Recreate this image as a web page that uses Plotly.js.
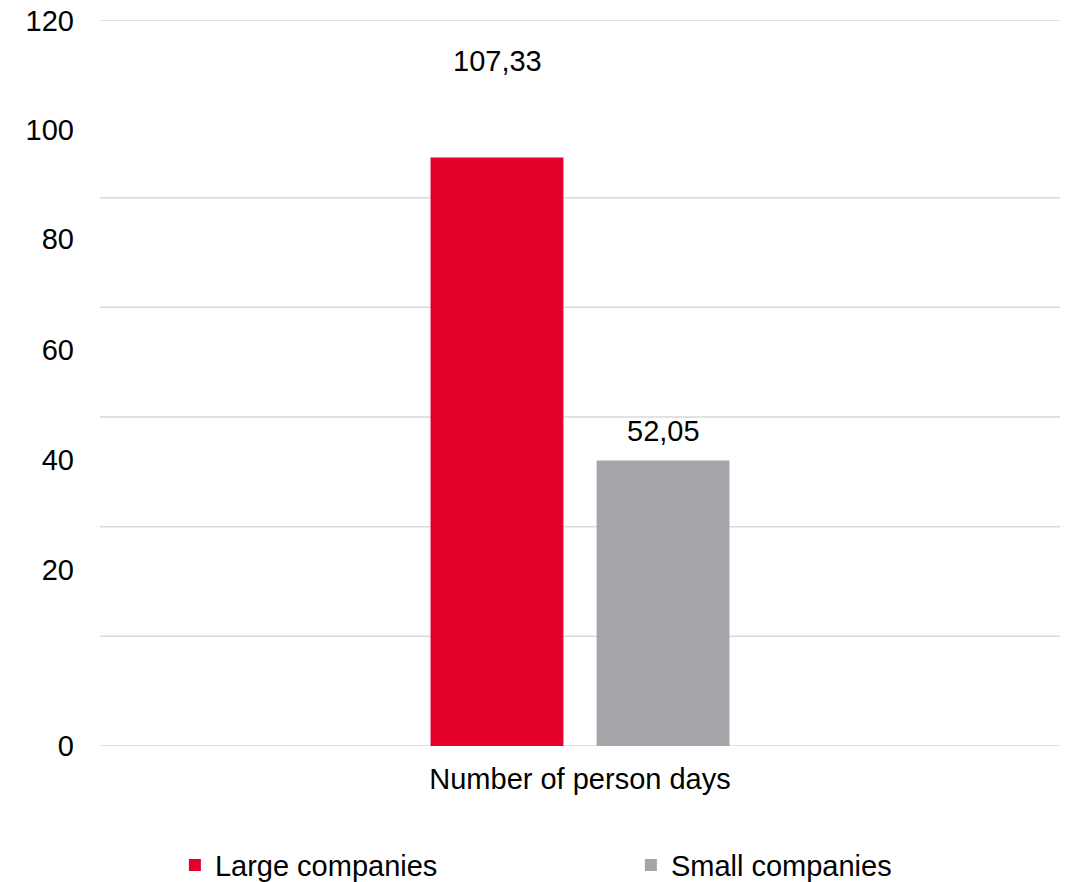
<!DOCTYPE html>
<html>
<head>
<meta charset="utf-8">
<script src="https://cdn.plot.ly/plotly-3.0.1.min.js"></script>
<style>html,body{margin:0;padding:0;background:#fff;}#chart{width:1069px;height:882px;}</style>
</head>
<body>
<div id="chart"></div>
<script>
// ---- data ----
const categories = ["Number of person days"];
const seriesNames = ["Large companies", "Small companies"];
const largeValues = [107.33];
const smallValues = [52.05];
const yTickLabels = ["0", "20", "40", "60", "80", "100", "120"];
const gridValues = [0, 20, 40, 60, 80, 100];

// ---- layout constants ----
const colors = ["#E4002B", "#A5A6A9"];
const yRange = [0, 132.4];
const yTickPositions = [0, 32.2, 52.2, 72.3, 92.4, 112.3, 132.2];
const labelXShift = [-83, 83];
const labelYShift = [96, 30];
const FONT = "Liberation Sans, Arial, Helvetica, sans-serif";
const FS = 29;

const fmt = v => v.toFixed(2).replace(".", ",");

const seriesValues = [largeValues, smallValues];
const traces = seriesValues.map((vals, i) => ({
  type: "bar",
  name: seriesNames[i],
  x: categories,
  y: vals,
  marker: { color: colors[i] },
  hoverinfo: "none"
}));

const annotations = [];
seriesValues.forEach((vals, i) => {
  vals.forEach((v, j) => {
    annotations.push({
      x: categories[j], y: v, xref: "x", yref: "y",
      text: fmt(v), showarrow: false,
      xshift: labelXShift[i], yshift: labelYShift[i],
      yanchor: "middle",
      font: { family: FONT, size: FS, color: "#000" }
    });
  });
});

const shapes = gridValues.concat([yRange[1]]).map(g => ({
  type: "line", xref: "paper", x0: 0, x1: 1, yref: "y", y0: g, y1: g,
  line: { color: "#D9D9D9", width: 1.5 }, layer: "below"
}));

const layout = {
  width: 1069, height: 882,
  margin: { l: 100, r: 9, t: 20, b: 136, pad: 0, autoexpand: false },
  paper_bgcolor: "#fff", plot_bgcolor: "#fff",
  font: { family: FONT, size: FS, color: "#000" },
  barmode: "group",
  bargap: 0.654,
  bargroupgap: 0.2,
  showlegend: true,
  legend: {
    orientation: "h", x: 0.078, xanchor: "left", y: -0.164, yanchor: "middle",
    entrywidth: 411, font: { family: FONT, size: FS, color: "#000" },
    traceorder: "normal"
  },
  xaxis: {
    type: "category", showgrid: false, zeroline: false, showline: false,
    ticks: "", ticklabelstandoff: 13,
    tickfont: { family: FONT, size: FS, color: "#000" }
  },
  yaxis: {
    range: yRange, showgrid: false, zeroline: false, showline: false,
    tickmode: "array", tickvals: yTickPositions, ticktext: yTickLabels,
    ticks: "", ticklabelstandoff: 25,
    tickfont: { family: FONT, size: FS, color: "#000" }
  },
  shapes: shapes,
  annotations: annotations
};

Plotly.newPlot("chart", traces, layout, { staticPlot: true, displayModeBar: false });
</script>
</body>
</html>
